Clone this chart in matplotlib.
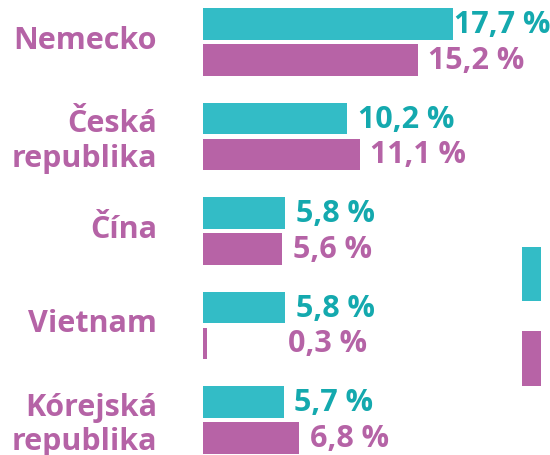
import matplotlib
matplotlib.use('Agg')
import matplotlib.pyplot as plt
import matplotlib.patches as mpatches
import numpy as np

# ── Data ─────────────────────────────────────────────────────────────────────
countries = ['Nemecko', 'Česká\nrepublika', 'Čína', 'Vietnam', 'Kórejská\nrepublika']
share_a = [17.7, 10.2, 5.8, 5.8, 5.7]   # teal series (%)
share_b = [15.2, 11.1, 5.6, 0.3, 6.8]   # purple series (%)

# ── Style ────────────────────────────────────────────────────────────────────
TEAL = '#33bcc6'
TEAL_TXT = '#14a9ae'
PURPLE = '#b763a6'
PURPLE_TXT = '#b563a6'
FONT = 'Open Sans'
FS = 22

plt.rcParams['font.family'] = [FONT, 'DejaVu Sans']

fig = plt.figure(figsize=(5.5, 4.56), dpi=100)
ax = fig.add_axes([203 / 550, 0, 1 - 203 / 550, 1])

y = np.arange(len(countries))
h = 0.33
off = 0.19
ax.barh(y - off, share_a, height=h, color=TEAL, linewidth=0)
ax.barh(y + off, share_b, height=h, color=PURPLE, linewidth=0)

ax.set_xlim(0, 24.57)
ax.set_ylim(4.37, -0.455)

# value labels, kept clear of very short bars and the right edge
def fmt(v):
    return f'{v:.1f}'.replace('.', ',') + ' %'

for yi, va_, vb_ in zip(y, share_a, share_b):
    for v, yy, col in [(va_, yi - off, TEAL_TXT), (vb_, yi + off, PURPLE_TXT)]:
        xpos = min(max(v, 5.3) + 0.75, 17.75)
        ax.text(xpos, yy, fmt(v), ha='left', va='center', fontsize=FS,
                fontweight='bold', color=col)

# country names to the left of each bar pair
for yi, name in zip(y, countries):
    dy = -2.8 if '\n' in name else 1.5
    ax.annotate(name, xy=(0, yi), xycoords=('axes fraction', 'data'),
                xytext=(-33, dy), textcoords='offset points',
                ha='right', va='center', fontsize=FS, fontweight='bold',
                color=PURPLE_TXT, linespacing=1.2)

ax.set_xticks([])
ax.set_yticks([])
for s in ax.spines.values():
    s.set_visible(False)

# legend keys at the right edge
fig.add_artist(mpatches.Rectangle((522 / 550, 1 - 302 / 456), 19 / 550, 54 / 456,
                                  transform=fig.transFigure, color=TEAL, lw=0))
fig.add_artist(mpatches.Rectangle((522 / 550, 1 - 387 / 456), 19 / 550, 55 / 456,
                                  transform=fig.transFigure, color=PURPLE, lw=0))

fig.savefig('out.png', dpi=100)
